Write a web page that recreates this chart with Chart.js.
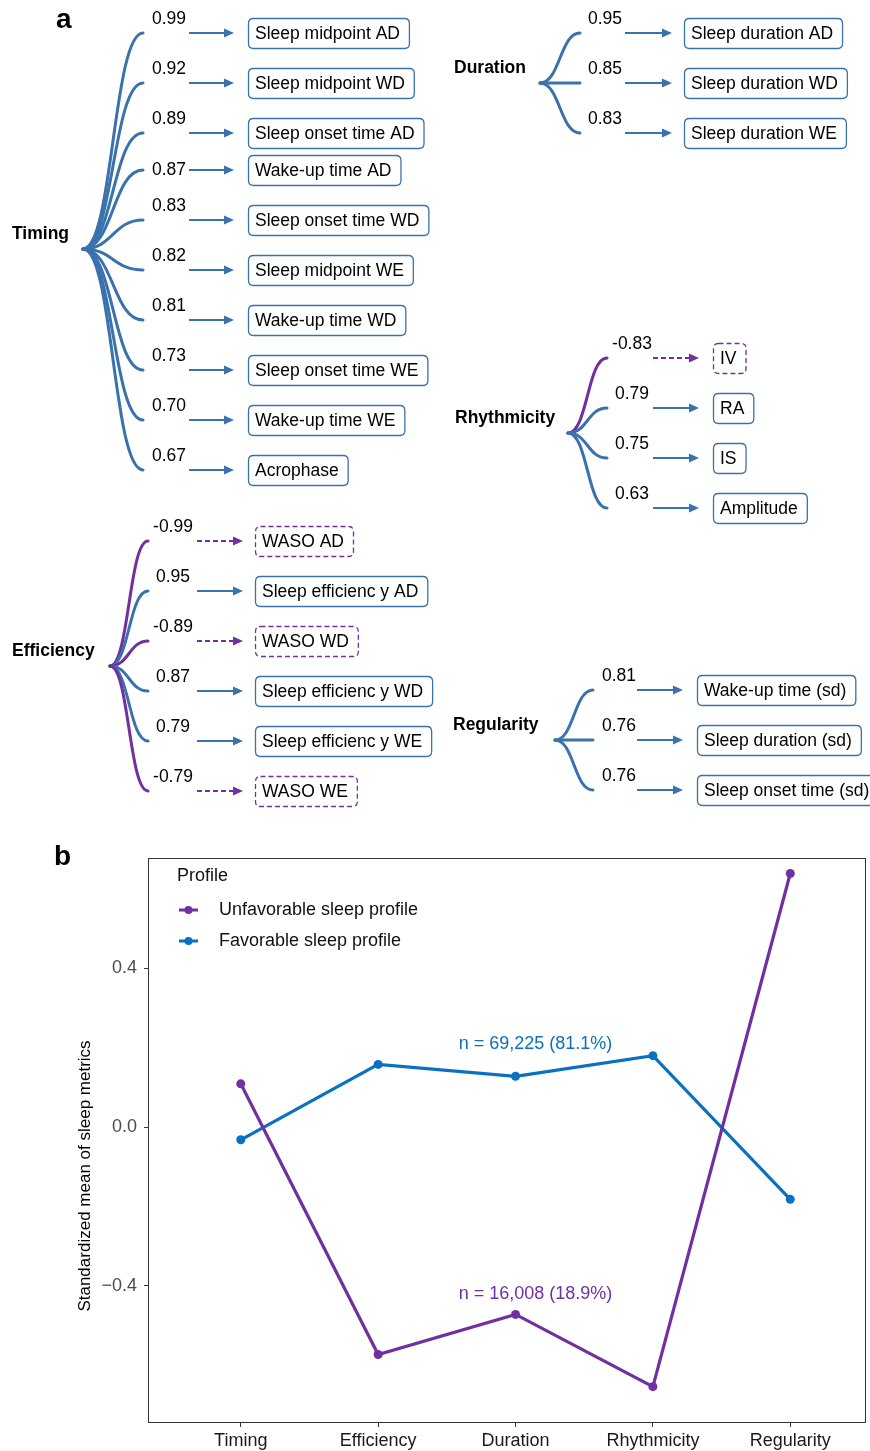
<!DOCTYPE html>
<html><head><meta charset="utf-8">
<script src="https://cdn.jsdelivr.net/npm/chart.js@4.4.1/dist/chart.umd.min.js"></script>
<style>
html,body{margin:0;padding:0;background:#fff;}
#wrap{position:relative;width:870px;height:1451px;overflow:hidden;background:#fff;}
#ca{position:absolute;left:0;top:0;}
#cb{position:absolute;left:0;top:820px;}
</style></head><body>
<div id="wrap"><canvas id="ca" width="870" height="820"></canvas><canvas id="cb" width="870" height="631"></canvas></div>
<script>
// ---------- Panel a data ----------
const factorNames = ["Timing","Duration","Rhythmicity","Efficiency","Regularity"];
const timingItems = ["Sleep midpoint AD","Sleep midpoint WD","Sleep onset time AD","Wake-up time AD","Sleep onset time WD","Sleep midpoint WE","Wake-up time WD","Sleep onset time WE","Wake-up time WE","Acrophase"];
const timingLoadings = [0.99,0.92,0.89,0.87,0.83,0.82,0.81,0.73,0.70,0.67];
const durationItems = ["Sleep duration AD","Sleep duration WD","Sleep duration WE"];
const durationLoadings = [0.95,0.85,0.83];
const rhythmicityItems = ["IV","RA","IS","Amplitude"];
const rhythmicityLoadings = [-0.83,0.79,0.75,0.63];
const efficiencyItems = ["WASO AD","Sleep efficienc y AD","WASO WD","Sleep efficienc y WD","Sleep efficienc y WE","WASO WE"];
const efficiencyLoadings = [-0.99,0.95,-0.89,0.87,0.79,-0.79];
const regularityItems = ["Wake-up time (sd)","Sleep duration (sd)","Sleep onset time (sd)"];
const regularityLoadings = [0.81,0.76,0.76];

// ---------- Panel b data ----------
const categories = ["Timing","Efficiency","Duration","Rhythmicity","Regularity"];
const unfavorable = [0.109,-0.573,-0.472,-0.654,0.639];
const favorable = [-0.032,0.158,0.128,0.180,-0.182];
const seriesNames = ["Unfavorable sleep profile","Favorable sleep profile"];
const sampleLabels = ["n = 16,008 (18.9%)","n = 69,225 (81.1%)"];
const yTickValues = [-0.4,0,0.4];

// ---------- styles ----------
const FONT = "'Liberation Sans', Arial, Helvetica, sans-serif";
const BLUE_A = '#3a72ac';
const PURPLE = '#7030a0';
const BLUE_B = '#0a70c0';

// ---------- panel a layout (diagram positions, in the hidden linear scales' units) ----------
const groupsA = [
  {name:factorNames[0], items:timingItems, loads:timingLoadings, labelX:12, rootX:83, endX:143, numX:169, ax1:189, ax2:234, boxX:248, rows:[33,83,133,170,220,270,320,370,420,470], inline:[3]},
  {name:factorNames[1], items:durationItems, loads:durationLoadings, labelX:454, rootX:540, endX:580, numX:605, ax1:625, ax2:672, boxX:684, rows:[33,83,133], inline:[]},
  {name:factorNames[2], items:rhythmicityItems, loads:rhythmicityLoadings, labelX:455, rootX:568, endX:607, numX:632, ax1:653, ax2:699, boxX:713, rows:[358,408,458,508], inline:[]},
  {name:factorNames[3], items:efficiencyItems, loads:efficiencyLoadings, labelX:12, rootX:110, endX:148, numX:173, ax1:197, ax2:243, boxX:255, rows:[541,591,641,691,741,791], inline:[]},
  {name:factorNames[4], items:regularityItems, loads:regularityLoadings, labelX:453, rootX:555, endX:593, numX:619, ax1:637, ax2:683, boxX:697, rows:[690,740,790], inline:[]}
];

function rrect(ctx,x,y,w,h,r){
  ctx.beginPath();
  ctx.moveTo(x+r,y);ctx.lineTo(x+w-r,y);ctx.quadraticCurveTo(x+w,y,x+w,y+r);
  ctx.lineTo(x+w,y+h-r);ctx.quadraticCurveTo(x+w,y+h,x+w-r,y+h);
  ctx.lineTo(x+r,y+h);ctx.quadraticCurveTo(x,y+h,x,y+h-r);
  ctx.lineTo(x,y+r);ctx.quadraticCurveTo(x,y,x+r,y);ctx.closePath();
}

const diagramPlugin = {
  id:'diagram',
  afterDraw(chart){
    const ctx = chart.ctx, sx = chart.scales.x, sy = chart.scales.y;
    const X = v=>sx.getPixelForValue(v), Y = v=>sy.getPixelForValue(v);
    ctx.save();
    ctx.fillStyle='#000';ctx.font="bold 28px "+FONT;ctx.textAlign='left';ctx.textBaseline='alphabetic';
    ctx.fillText('a',X(56),Y(28));
    groupsA.forEach(g=>{
      const rootY = g.rows.reduce((a,b)=>a+b,0)/g.rows.length;
      ctx.fillStyle='#000';ctx.font="bold 17.5px "+FONT;ctx.textAlign='left';ctx.textBaseline='middle';
      ctx.fillText(g.name,X(g.labelX),Y(rootY-15));
      const mid=(g.rootX+g.endX)/2;
      g.rows.forEach((ry,i)=>{
        const neg = g.loads[i]<0;
        ctx.strokeStyle = neg?PURPLE:BLUE_A; ctx.lineWidth=3; ctx.setLineDash([]); ctx.lineCap='round';
        ctx.beginPath();ctx.moveTo(X(g.rootX),Y(rootY));
        ctx.bezierCurveTo(X(mid),Y(rootY),X(mid),Y(ry),X(g.endX),Y(ry));
        ctx.stroke();
      });
      g.rows.forEach((ry,i)=>{
        const neg = g.loads[i]<0, col = neg?PURPLE:BLUE_A;
        ctx.fillStyle='#000';ctx.font="17.5px "+FONT;ctx.textAlign='center';ctx.textBaseline='middle';
        const ny = g.inline.includes(i)?ry:ry-14;
        ctx.fillText(g.loads[i].toFixed(2),X(g.numX),Y(ny));
        ctx.strokeStyle=col;ctx.fillStyle=col;ctx.lineWidth=2;ctx.lineCap='butt';
        ctx.setLineDash(neg?[5,3]:[]);
        ctx.beginPath();ctx.moveTo(X(g.ax1),Y(ry));ctx.lineTo(X(g.ax2-7),Y(ry));ctx.stroke();
        ctx.setLineDash([]);
        ctx.beginPath();ctx.moveTo(X(g.ax2),Y(ry));ctx.lineTo(X(g.ax2-10),Y(ry-4.5));ctx.lineTo(X(g.ax2-10),Y(ry+4.5));ctx.closePath();ctx.fill();
        ctx.font="17.5px "+FONT;
        const tw = ctx.measureText(g.items[i]).width;
        const bx = X(g.boxX), by = Y(ry-15), bw = tw+16, bh = 30;
        ctx.lineWidth=1.3;ctx.strokeStyle=neg?PURPLE:BLUE_A;ctx.setLineDash(neg?[5,3]:[]);
        rrect(ctx,bx+0.5,by+0.5,bw,bh,5);ctx.stroke();ctx.setLineDash([]);
        ctx.fillStyle='#000';ctx.textAlign='left';ctx.textBaseline='middle';
        ctx.fillText(g.items[i],bx+7,Y(ry)+1);
      });
    });
    ctx.restore();
  }
};

new Chart(document.getElementById('ca'),{
  type:'scatter',
  data:{datasets:[{data:groupsA.map(g=>({x:g.rootX,y:g.rows.reduce((a,b)=>a+b,0)/g.rows.length})),pointRadius:0}]},
  options:{responsive:false,animation:false,events:[],layout:{padding:0},
    plugins:{legend:{display:false},tooltip:{enabled:false}},
    scales:{x:{type:'linear',min:0,max:870,display:false},y:{type:'linear',min:0,max:820,reverse:true,display:false}}},
  plugins:[diagramPlugin]
});

// ---------- panel b ----------
const panelBPlugin = {
  id:'panelB',
  beforeDatasetsDraw(chart){
    const ctx=chart.ctx, a=chart.chartArea;
    ctx.save();ctx.strokeStyle='#333';ctx.lineWidth=1;
    ctx.strokeRect(Math.round(a.left)-0.5,Math.round(a.top)+0.5,Math.round(a.right-a.left)+1,Math.round(a.bottom-a.top));
    ctx.restore();
  },
  afterDraw(chart){
    const ctx=chart.ctx, a=chart.chartArea, sx=chart.scales.x, sy=chart.scales.y;
    ctx.save();
    ctx.fillStyle='#000';ctx.font="bold 28px "+FONT;ctx.textAlign='left';ctx.textBaseline='alphabetic';
    ctx.fillText('b',54,45);
    ctx.save();ctx.translate(85,356);ctx.rotate(-Math.PI/2);
    ctx.font="17px "+FONT;ctx.fillStyle='#000';ctx.textAlign='center';ctx.textBaseline='middle';
    ctx.fillText('Standardized mean of sleep metrics',0,0);ctx.restore();
    ctx.font="18px "+FONT;ctx.fillStyle='#111';ctx.textAlign='left';ctx.textBaseline='middle';
    ctx.fillText('Profile',a.left+28,a.top+18);
    const cols=[PURPLE,BLUE_B];
    seriesNames.forEach((n,i)=>{
      const yy=a.top+52+i*31;
      ctx.strokeStyle=cols[i];ctx.lineWidth=3;ctx.beginPath();ctx.moveTo(a.left+30,yy);ctx.lineTo(a.left+49,yy);ctx.stroke();
      ctx.fillStyle=cols[i];ctx.beginPath();ctx.arc(a.left+39.5,yy,4,0,Math.PI*2);ctx.fill();
      ctx.fillStyle='#111';ctx.fillText(n,a.left+70,yy);
    });
    ctx.textAlign='center';ctx.font="18px "+FONT;
    ctx.fillStyle=BLUE_B;ctx.fillText(sampleLabels[1],sx.getPixelForValue(2.145),sy.getPixelForValue(0.209));
    ctx.fillStyle=PURPLE;ctx.fillText(sampleLabels[0],sx.getPixelForValue(2.145),sy.getPixelForValue(-0.42));
    ctx.restore();
  }
};

new Chart(document.getElementById('cb'),{
  type:'line',
  data:{datasets:[
    {label:seriesNames[0],data:unfavorable.map((v,i)=>({x:i,y:v})),borderColor:PURPLE,backgroundColor:PURPLE,borderWidth:3.2,pointRadius:4.5,pointBorderWidth:0,tension:0},
    {label:seriesNames[1],data:favorable.map((v,i)=>({x:i,y:v})),borderColor:BLUE_B,backgroundColor:BLUE_B,borderWidth:3.2,pointRadius:4.5,pointBorderWidth:0,tension:0}
  ]},
  options:{responsive:false,animation:false,events:[],
    layout:{padding:{top:38,right:5,left:0,bottom:0}},
    plugins:{legend:{display:false},tooltip:{enabled:false}},
    scales:{
      x:{type:'linear',min:-0.668,max:4.544,
        afterBuildTicks:s=>{s.ticks=categories.map((c,i)=>({value:i}));},
        afterFit:s=>{s.height=29;},
        grid:{drawOnChartArea:false,drawTicks:true,tickLength:5,tickColor:'#333',color:'#333'},
        border:{display:false},
        ticks:{callback:v=>categories[v],color:'#1a1a1a',font:{family:FONT,size:18},padding:3,maxRotation:0,autoSkip:false}},
      y:{type:'linear',min:-0.743,max:0.678,
        afterBuildTicks:s=>{s.ticks=yTickValues.map(v=>({value:v}));},
        afterFit:s=>{s.width=149;},
        grid:{drawOnChartArea:false,drawTicks:true,tickLength:5,tickColor:'#333',color:'#333'},
        border:{display:false},
        ticks:{callback:v=>(v===0?'0.0':(v<0?'\u2212':'')+Math.abs(v).toFixed(1)),color:'#4d4d4d',font:{family:FONT,size:18},padding:7}}
    }},
  plugins:[panelBPlugin]
});
</script>
</body></html>
